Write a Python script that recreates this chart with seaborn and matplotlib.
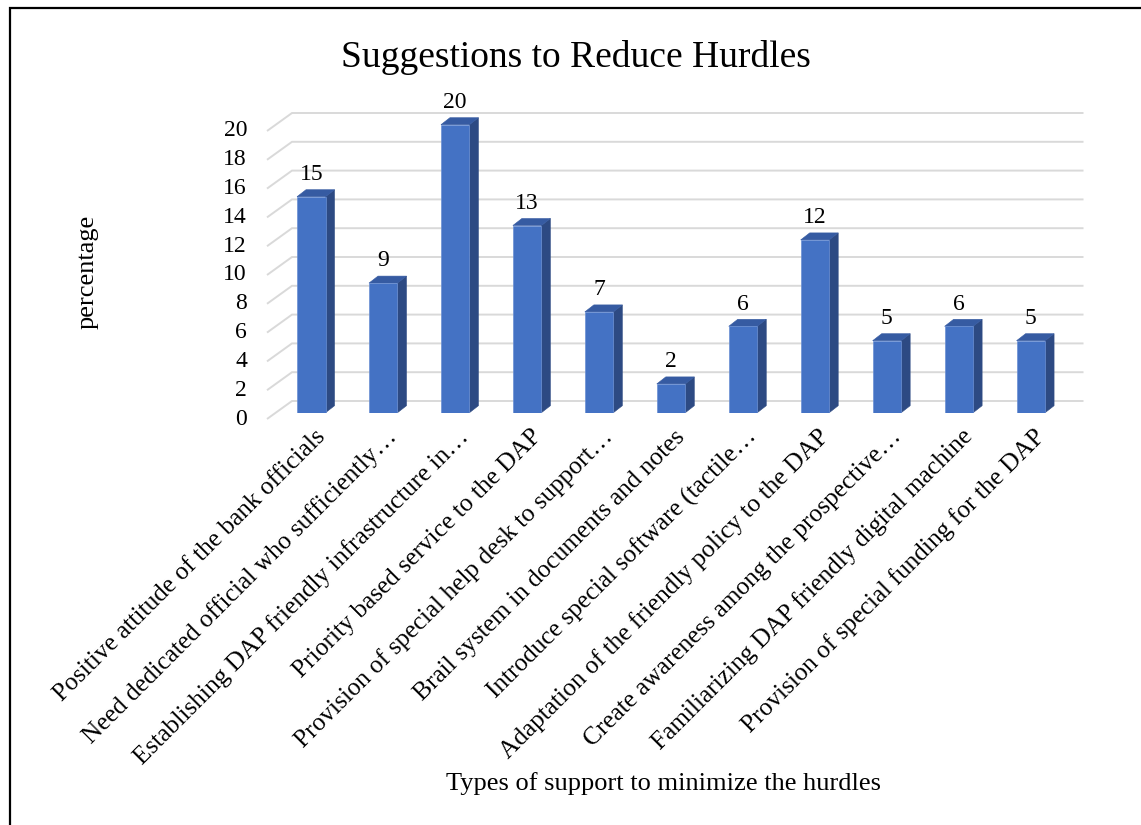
import matplotlib
matplotlib.use("Agg")
import matplotlib.pyplot as plt
import pandas as pd
import seaborn as sns
from matplotlib.patches import Polygon, Rectangle

# ---- data -------------------------------------------------------------
categories = [
    "Positive attitude of the bank officials",
    "Need dedicated official who sufficiently\u2026",
    "Establishing DAP friendly infrastructure in\u2026",
    "Priority based service to the DAP",
    "Provision of special help desk to support\u2026",
    "Brail system in documents and notes",
    "Introduce special software (tactile\u2026",
    "Adaptation of the friendly policy to the DAP",
    "Create awareness among the prospective\u2026",
    "Familiarizing DAP friendly digital machine",
    "Provision of special funding for the DAP",
]
values = [15, 9, 20, 13, 7, 2, 6, 12, 5, 6, 5]
y_ticks = [0, 2, 4, 6, 8, 10, 12, 14, 16, 18, 20]

title = "Suggestions to Reduce Hurdles"
x_title = "Types of support to minimize the hurdles"
y_title = "percentage"

# ---- style ------------------------------------------------------------
sns.set_theme(style="white")
plt.rcParams["font.family"] = ["Liberation Serif", "DejaVu Serif"]

FRONT = "#4472C4"
SIDE = "#2D4A83"
TOP = "#365BA2"
GRID = "#D9D9D9"

W, H, DPI = 1141, 825, 100
fig = plt.figure(figsize=(W / DPI, H / DPI), dpi=DPI)
fig.patch.set_facecolor("white")

# the axes is the plane through the front faces of the columns
left_px, right_px = 275.3, 1066.8
bottom_px, top_px = 412.7, 124.7
ax = fig.add_axes([left_px / W, 1 - bottom_px / H,
                   (right_px - left_px) / W, (bottom_px - top_px) / H])

df = pd.DataFrame({"support": categories, "percentage": values})
sns.barplot(data=df, x="support", y="percentage", order=categories,
            color=FRONT, saturation=1, width=0.396, ax=ax, zorder=3,
            edgecolor="#6A8FD3", linewidth=0.5)
ax.set_xlim(-0.5, len(categories) - 0.5)
ax.set_ylim(y_ticks[0], y_ticks[-1])
ax.axis("off")

# pixel -> data conversion for the depth offsets
p0 = ax.transData.transform((0, 0))
p1 = ax.transData.transform((1, 1))
ux, uy = p1[0] - p0[0], p1[1] - p0[1]


def off(dx_px, dy_px):
    return dx_px / ux, dy_px / uy


# floor / back wall planes relative to the column plane
fdx, fdy = off(-8.3, -6.3)     # front edge of the floor
bdx, bdy = off(16.7, 11.7)     # back wall
x_lo, x_hi = ax.get_xlim()

for v in y_ticks:
    ax.plot([x_lo + fdx, x_lo + bdx, x_hi + bdx],
            [v + fdy, v + bdy, v + bdy],
            color=GRID, lw=1.4, zorder=0, clip_on=False,
            solid_joinstyle="miter", solid_capstyle="butt")
    tx, _ = off(-20, 0)
    ax.text(x_lo + fdx + tx, v + fdy, f"{v}", ha="right", va="center",
            fontsize=17, color="black")

# depth of the columns
ddx, ddy = off(9, 7)
for patch in ax.patches:
    x0, w, h = patch.get_x(), patch.get_width(), patch.get_height()
    side = Polygon([(x0 + w, 0), (x0 + w + ddx, ddy),
                    (x0 + w + ddx, h + ddy), (x0 + w, h)],
                   closed=True, facecolor=SIDE, edgecolor=SIDE, lw=0.4,
                   zorder=2.5, clip_on=False)
    top = Polygon([(x0, h), (x0 + w, h), (x0 + w + ddx, h + ddy),
                   (x0 + ddx, h + ddy)],
                  closed=True, facecolor=TOP, edgecolor=TOP, lw=0.4,
                  zorder=2.6, clip_on=False)
    ax.add_patch(side)
    ax.add_patch(top)

# value labels
_, lab_dy = off(0, 16.7)
for i, v in enumerate(values):
    ax.text(i, v + lab_dy, f"{v}", ha="center", va="baseline",
            fontsize=17, color="black", clip_on=False)

# rotated category labels
cdx, cdy = off(15, -25)
for i, name in enumerate(categories):
    ax.text(i + cdx, cdy, name, rotation=45, rotation_mode="anchor",
            ha="right", va="baseline", fontsize=18.3, color="black",
            clip_on=False)

# titles
fig.text(576 / W, 1 - 67 / H, title, ha="center", va="baseline",
         fontsize=27, color="black")
fig.text(663 / W, 1 - 790 / H, x_title, ha="center", va="baseline",
         fontsize=19, color="black")
fig.text(88 / W, 1 - 272 / H, y_title, ha="center", va="center",
         rotation=90, fontsize=19, color="black")

# chart frame
fig.add_artist(Rectangle((9.5 / W, -0.1), 1.2, 1.1 - 8.5 / H,
                         transform=fig.transFigure, fill=False,
                         edgecolor="black", lw=1.6))

fig.savefig("out.png", dpi=DPI)
